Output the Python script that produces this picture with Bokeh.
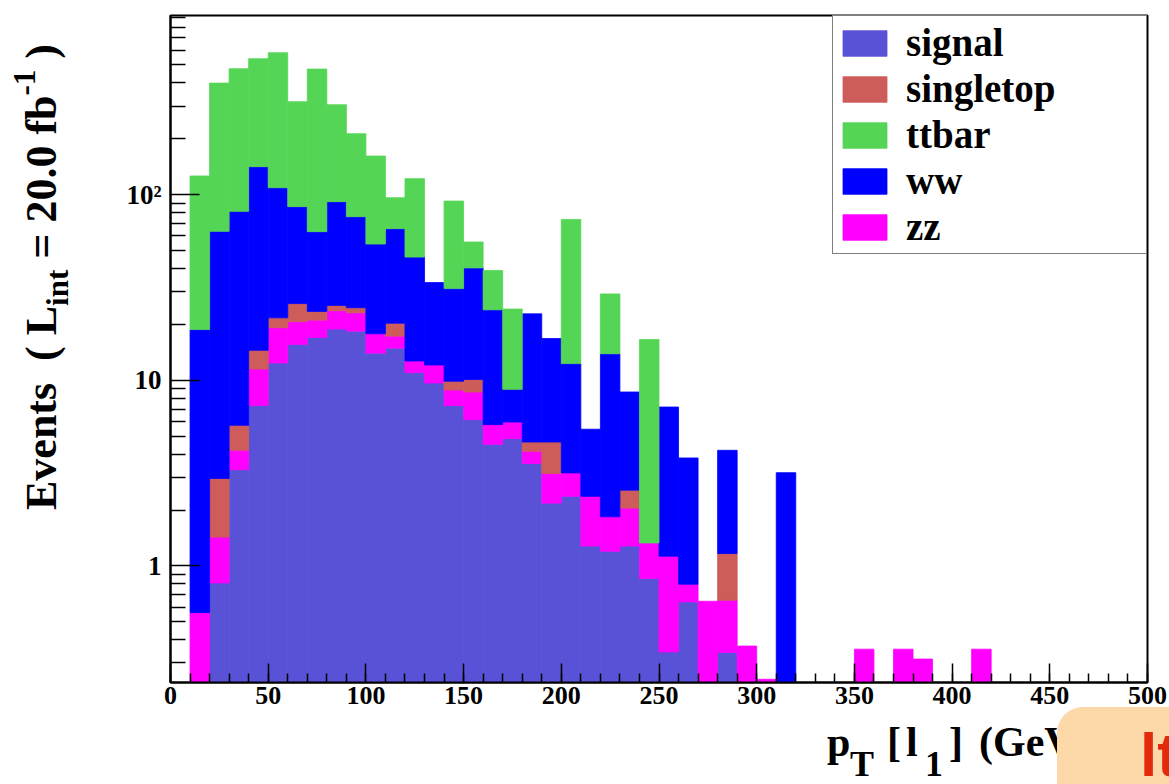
import numpy as np
from bokeh.plotting import figure
from bokeh.layouts import row, column
from bokeh.models import Range1d, FixedTicker, Legend, LegendItem, ColumnDataSource, Div
from bokeh.embed import file_html
from bokeh.resources import INLINE

# ---------------- data (10 GeV bins, 0..500 GeV) ----------------
bin_edges = list(range(0, 510, 10))

signal = [0, 0, 0.81, 3.30, 7.31, 12.4, 15.6, 17.0, 18.9, 18.4,
          14.0, 14.9, 11.0, 9.67, 7.31, 6.14, 4.52, 4.85, 3.56, 2.18,
          2.37, 1.28, 1.20, 1.28, 0.855, 0.344, 0.64, 0, 0.342, 0,
          0, 0, 0, 0, 0, 0, 0, 0, 0, 0,
          0, 0, 0, 0, 0, 0, 0, 0, 0, 0]
zz = [0, 0.56, 0.62, 0.90, 4.19, 6.8, 5.1, 4.1, 4.8, 4.7,
      3.8, 2.4, 1.7, 2.43, 1.56, 2.51, 1.25, 1.11, 0.59, 0.97,
      0.80, 1.09, 0.64, 0.77, 0.475, 0.784, 0.157, 0.645, 0.311, 0.37,
      0.245, 0, 0, 0, 0, 0.356, 0, 0.356, 0.315, 0,
      0, 0.356, 0, 0, 0, 0, 0, 0, 0, 0]
singletop = [0, 0, 1.53, 1.52, 3.0, 2.5, 5.2, 2.4, 1.6, 1.5,
             0, 3.0, 0, 0, 1.01, 1.45, 0, 0, 0.50, 1.50,
             0, 0, 0, 0.51, 0, 0, 0, 0, 0.513, 0,
             0, 0, 0, 0, 0, 0, 0, 0, 0, 0,
             0, 0, 0, 0, 0, 0, 0, 0, 0, 0]
ww = [0, 18.2, 60.5, 75.6, 127.0, 87.3, 60.3, 39.7, 66.4, 51.5,
      36.4, 45.3, 33.4, 21.5, 21.3, 30.2, 18.2, 2.98, 18.15, 12.15,
      9.13, 3.08, 12.06, 6.09, 0, 6.05, 3.02, 0, 3.03, 0,
      0, 3.18, 0, 0, 0, 0, 0, 0, 0, 0,
      0, 0, 0, 0, 0, 0, 0, 0, 0, 0]
ttbar = [0, 107.3, 335.5, 395.7, 398.5, 472.7, 230.6, 411.6, 213.5, 136.9,
         107.2, 30.7, 75.9, 0, 61.2, 15.3, 15.1, 15.26, 0, 0,
         61.3, 0, 15.3, 0, 15.27, 0, 0, 0, 0, 0,
         0, 0, 0, 0, 0, 0, 0, 0, 0, 0,
         0, 0, 0, 0, 0, 0, 0, 0, 0, 0]

# stacking order bottom -> top
stack_names = ["signal", "zz", "singletop", "ww", "ttbar"]
stack_values = [signal, zz, singletop, ww, ttbar]
colors = {"signal": "#5a52d6", "zz": "#ff00ff", "singletop": "#cd5c5a",
          "ww": "#0000ff", "ttbar": "#55d555"}
legend_order = ["signal", "singletop", "ttbar", "ww", "zz"]

x_ticks = list(range(0, 501, 50))
x_minor = list(range(0, 501, 10))
y_ticks = [1, 10, 100]
y_minor = [0.3, 0.4, 0.5, 0.6, 0.7, 0.8, 0.9] + list(range(2, 10)) + \
          list(range(20, 100, 10)) + list(range(200, 1000, 100))
y_labels = {1: "1", 10: "10", 100: "10\u00b2"}

# ---------------- figure ----------------
p = figure(width=1089, height=722, output_backend="svg", toolbar_location=None,
           x_range=Range1d(0, 500), y_range=Range1d(0.2355, 923), y_axis_type="log",
           min_border_left=90, min_border_right=22, min_border_top=15, min_border_bottom=40)
p.xgrid.visible = False
p.ygrid.visible = False
p.outline_line_color = "black"
p.outline_line_width = 2
p.background_fill_color = "white"
p.border_fill_color = "white"

edges = np.array(bin_edges, dtype=float)
left = edges[:-1]
right = edges[1:]
floor = 1e-3
cum = np.zeros(len(left))
renderers = {}
for name, vals in zip(stack_names, stack_values):
    v = np.array(vals, dtype=float)
    bottom = cum.copy()
    cum = cum + v
    m = v > 0
    src = ColumnDataSource(dict(left=left[m], right=right[m],
                                bottom=np.maximum(bottom[m], floor), top=cum[m]))
    renderers[name] = p.quad(left="left", right="right", bottom="bottom", top="top",
                             source=src, fill_color=colors[name],
                             line_color=colors[name], line_width=0.8)

# axes
for ax in (p.xaxis[0], p.yaxis[0]):
    ax.axis_line_color = "black"
    ax.axis_line_width = 2
    ax.major_tick_line_color = "black"
    ax.major_tick_line_width = 1.5
    ax.minor_tick_line_color = "black"
    ax.minor_tick_line_width = 1.5
    ax.major_tick_out = 0
    ax.minor_tick_out = 0
    ax.major_label_text_font = "Liberation Serif"
    ax.major_label_text_font_style = "bold"
    ax.major_label_text_color = "black"

p.xaxis.major_label_text_font_size = "26px"
p.xaxis.ticker = FixedTicker(ticks=x_ticks, minor_ticks=x_minor)
p.xaxis.major_tick_in = 19
p.xaxis.minor_tick_in = 9
p.xaxis.major_label_standoff = 4

p.yaxis.major_label_text_font_size = "27px"
p.yaxis.ticker = FixedTicker(ticks=y_ticks, minor_ticks=y_minor)
p.yaxis.major_label_overrides = y_labels
p.yaxis.major_tick_in = 29
p.yaxis.minor_tick_in = 15
p.yaxis.major_label_standoff = 9

# legend
legend = Legend(items=[LegendItem(label=n, renderers=[renderers[n]]) for n in legend_order],
                location="top_right", margin=0, padding=4, spacing=1,
                glyph_width=55, glyph_height=32, label_standoff=14, label_width=236,
                label_height=40,
                label_text_font="Liberation Serif", label_text_font_style="bold",
                label_text_font_size="39px", label_text_color="black",
                border_line_color="black", border_line_width=1.5,
                background_fill_color="white", background_fill_alpha=1.0)
p.add_layout(legend)

# ---------------- axis titles (HTML text) ----------------
serif = "font-family:'Liberation Serif',serif;font-weight:bold;color:black;"

y_title_html = (
    '<div style="position:relative;width:80px;height:722px;">'
    '<div style="position:absolute;left:12px;top:510px;transform:rotate(-90deg);'
    'transform-origin:0 0;white-space:nowrap;' + serif +
    'font-size:44px;line-height:60px;">'
    'Events&nbsp;&nbsp;( L<span style="font-size:31px;line-height:0;vertical-align:-12px;">int</span>'
    '&nbsp;= 20.0 fb<span style="font-size:31px;line-height:0;vertical-align:21px;">-1</span>&nbsp;)'
    '</div></div>'
)


def piece(txt, x, baseline, size):
    lh = 0.9 * size
    top = baseline - 0.7875 * size
    return (f'<span style="position:absolute;left:{x}px;top:{top:.1f}px;white-space:nowrap;'
            f'{serif}font-size:{size}px;line-height:{lh:.1f}px;">{txt}</span>')


MB, SB = 35, 54      # baselines within the bottom strip (page y 757 / 776)
FX, SX = 42, 36
x_title_html = (
    '<div style="position:relative;width:1169px;height:62px;">'
    + piece("p", 827, MB, FX) + piece("T", 850, SB, SX)
    + piece("[", 887, MB, FX) + piece("l", 906, MB, FX)
    + piece("1", 925, SB, SX) + piece("]", 949, MB, FX)
    + piece("(GeV)", 979, MB, FX)
    + '<div style="position:absolute;left:1057px;top:-15px;width:112px;height:77px;'
      'background:#fdd8a8;border-radius:26px 0 0 0;overflow:hidden;">'
      '<span style="position:absolute;left:83px;top:17px;white-space:nowrap;'
      "font-family:'Liberation Sans',sans-serif;font-weight:bold;font-size:62px;"
      'line-height:62px;color:#e32b0c;">lt</span></div>'
    + '</div>'
)

y_div = Div(text=y_title_html, width=80, height=722, margin=0)
x_div = Div(text=x_title_html, width=1169, height=62, margin=0,
            styles={"overflow": "visible", "z-index": "5"})

layout = column(row(y_div, p, spacing=0), x_div, spacing=0)

open("out.html", "w").write(file_html(layout, INLINE))
